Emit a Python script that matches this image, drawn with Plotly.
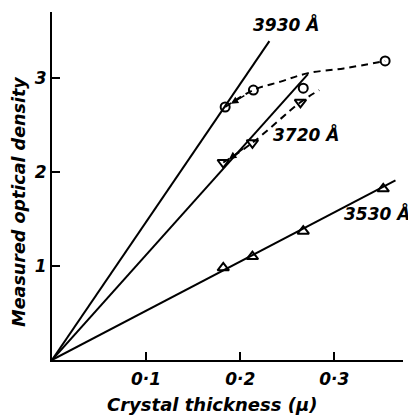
import plotly.graph_objects as go

# Data
c3930_x = [0.184, 0.214, 0.267, 0.354]
c3930_y = [2.69, 2.87, 2.89, 3.18]
t3720_x = [0.182, 0.213, 0.264]
t3720_y = [2.10, 2.31, 2.74]
t3530_x = [0.182, 0.213, 0.267, 0.352]
t3530_y = [0.98, 1.10, 1.37, 1.82]

fit3930_x = [0.0, 0.231]
fit3930_y = [0.0, 3.39]
fit3720_x = [0.0, 0.272]
fit3720_y = [0.0, 3.04]
fit3530_x = [0.0, 0.365]
fit3530_y = [0.0, 1.91]

dash3930_x = [0.184, 0.214, 0.243, 0.272, 0.31, 0.354]
dash3930_y = [2.69, 2.87, 2.96, 3.05, 3.10, 3.18]
dash3720_x = [0.182, 0.213, 0.264, 0.284]
dash3720_y = [2.10, 2.31, 2.74, 2.87]

x_ticks = [0.1, 0.2, 0.3]
x_ticklabels = ["0·1", "0·2", "0·3"]
y_ticks = [1, 2, 3]
y_ticklabels = ["1", "2", "3"]

labels = ["3930 Å", "3720 Å", "3530 Å"]
label_x = [0.249, 0.270, 0.345]
label_y = [3.57, 2.40, 1.56]

FONT = "DejaVu Sans"
ink = "black"

fig = go.Figure()
for xs, ys in [(fit3930_x, fit3930_y), (fit3720_x, fit3720_y), (fit3530_x, fit3530_y)]:
    fig.add_trace(go.Scatter(x=xs, y=ys, mode="lines", line=dict(color=ink, width=2), showlegend=False, hoverinfo="skip"))
for xs, ys in [(dash3930_x, dash3930_y), (dash3720_x, dash3720_y)]:
    fig.add_trace(go.Scatter(x=xs, y=ys, mode="lines", line=dict(color=ink, width=2, dash="7px,5px", shape="spline"), showlegend=False, hoverinfo="skip"))

fig.add_trace(go.Scatter(x=c3930_x, y=c3930_y, mode="markers", showlegend=False,
                         marker=dict(symbol="circle-open", size=9, color=ink, line=dict(width=2, color=ink))))
fig.add_trace(go.Scatter(x=t3720_x, y=t3720_y, mode="markers", showlegend=False,
                         marker=dict(symbol="triangle-down-open", size=10, color=ink, line=dict(width=2, color=ink))))
fig.add_trace(go.Scatter(x=t3530_x, y=t3530_y, mode="markers", showlegend=False,
                         marker=dict(symbol="triangle-up-open", size=10, color=ink, line=dict(width=2, color=ink))))

# arrowheads at start of dashed curves
for xs, ys in [(dash3930_x, dash3930_y), (dash3720_x, dash3720_y)]:
    fig.add_annotation(x=xs[0] + 0.006, y=ys[0] + 0.035, ax=xs[1] - 0.008, ay=ys[1] - 0.05,
                       xref="x", yref="y", axref="x", ayref="y", text="",
                       showarrow=True, arrowhead=2, arrowsize=1, arrowwidth=1.5, arrowcolor=ink)

for t, lx, ly in zip(labels, label_x, label_y):
    fig.add_annotation(x=lx, y=ly, text=t, showarrow=False, xanchor="center", yanchor="middle",
                       font=dict(family=FONT, size=17, color=ink, weight="bold", style="italic"))

fig.add_annotation(x=0.456, y=-0.127, xref="paper", yref="paper", text="Crystal thickness (μ)",
                   showarrow=False, xanchor="center", yanchor="middle",
                   font=dict(family=FONT, size=18, color=ink, weight="bold", style="italic"))
fig.add_annotation(x=-0.094, y=0.455, xref="paper", yref="paper", text="Measured optical density",
                   showarrow=False, xanchor="center", yanchor="middle", textangle=-90,
                   font=dict(family=FONT, size=17.5, color=ink, weight="bold", style="italic"))

axis_font = dict(family=FONT, size=17, color=ink, weight="bold", style="italic")
fig.update_layout(
    width=408, height=410,
    margin=dict(l=44, r=13, t=4, b=58),
    paper_bgcolor="white", plot_bgcolor="white",
    xaxis=dict(range=[0, 0.373], tickvals=x_ticks, ticktext=x_ticklabels, ticks="inside",
               ticklen=8, tickwidth=2, tickcolor=ink, showline=True, linecolor=ink, linewidth=2,
               showgrid=False, zeroline=False, tickfont=axis_font, ticklabelstandoff=3, automargin=False),
    yaxis=dict(range=[0, 3.70], tickvals=y_ticks, ticktext=y_ticklabels, ticks="inside",
               ticklen=8, tickwidth=2, tickcolor=ink, showline=True, linecolor=ink, linewidth=2,
               showgrid=False, zeroline=False, tickfont=axis_font, ticklabelstandoff=0, automargin=False),
)

fig.write_html("out.html")
